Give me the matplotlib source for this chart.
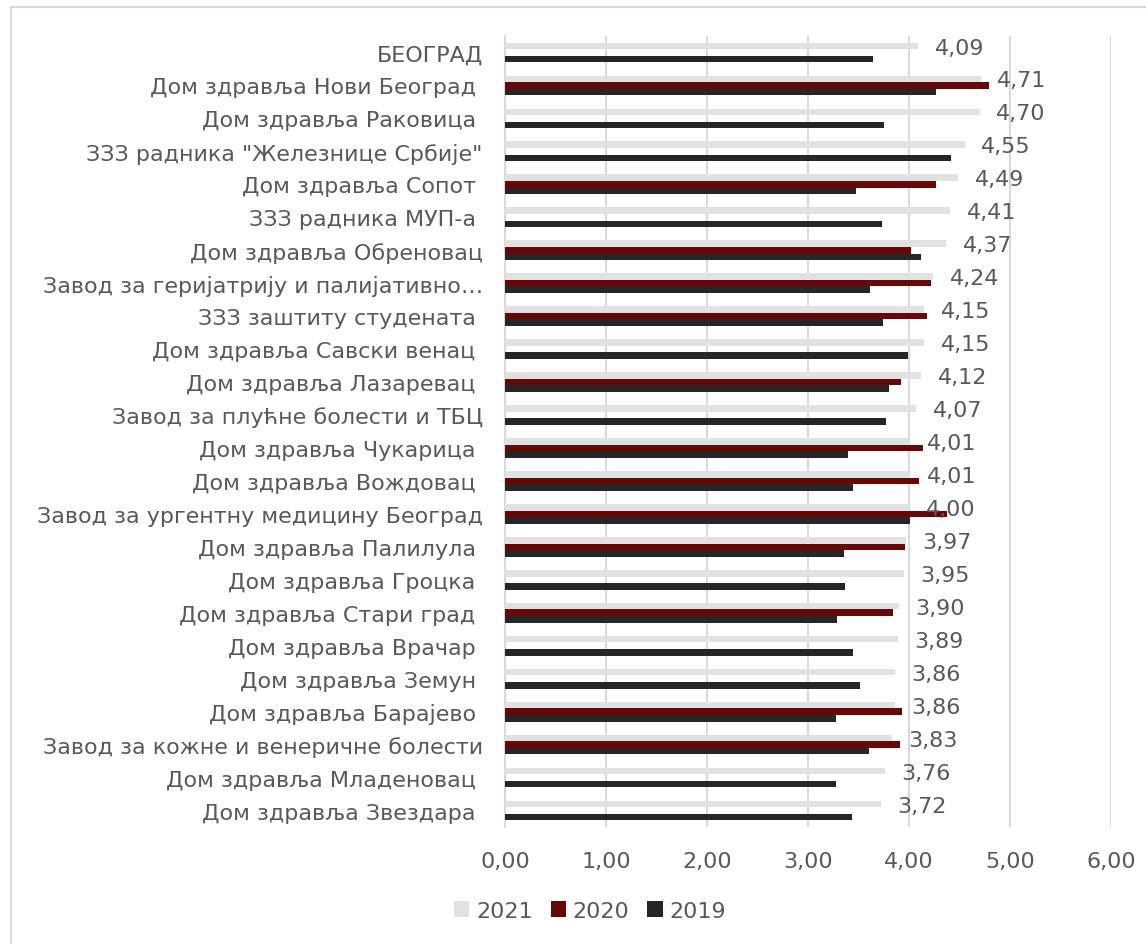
import matplotlib
matplotlib.use("Agg")
import matplotlib.pyplot as plt
from matplotlib.patches import Rectangle, Patch
import numpy as np

plt.rcParams['font.family'] = ['DejaVu Sans']

categories = [
    "БЕОГРАД",
    "Дом здравља Нови Београд ",
    "Дом здравља Раковица ",
    'ЗЗЗ радника "Железнице Србије"',
    "Дом здравља Сопот ",
    "ЗЗЗ радника МУП-а ",
    "Дом здравља Обреновац",
    "Завод за геријатрију и палијативно…",
    "ЗЗЗ заштиту студената ",
    "Дом здравља Савски венац ",
    "Дом здравља Лазаревац ",
    "Завод за плућне болести и ТБЦ",
    "Дом здравља Чукарица ",
    "Дом здравља Вождовац ",
    "Завод за ургентну медицину Београд",
    "Дом здравља Палилула ",
    "Дом здравља Гроцка ",
    "Дом здравља Стари град ",
    "Дом здравља Врачар ",
    "Дом здравља Земун ",
    "Дом здравља Барајево ",
    "Завод за кожне и венеричне болести",
    "Дом здравља Младеновац ",
    "Дом здравља Звездара ",
]

nan = np.nan
values_2021 = [4.09, 4.71, 4.70, 4.55, 4.49, 4.41, 4.37, 4.24, 4.15, 4.15, 4.12, 4.07,
               4.01, 4.01, 4.00, 3.97, 3.95, 3.90, 3.89, 3.86, 3.86, 3.83, 3.76, 3.72]
values_2020 = [nan, 4.79, nan, nan, 4.27, nan, 4.02, 4.22, 4.18, nan, 3.92, nan,
               4.14, 4.10, 4.38, 3.96, nan, 3.84, nan, nan, 3.93, 3.91, nan, nan]
values_2019 = [3.64, 4.27, 3.75, 4.42, 3.48, 3.73, 4.12, 3.61, 3.74, 3.99, 3.80, 3.77,
               3.40, 3.45, 4.01, 3.36, 3.37, 3.29, 3.45, 3.51, 3.28, 3.60, 3.28, 3.44]

series_names = ["2021", "2020", "2019"]
x_ticks = [0, 1, 2, 3, 4, 5, 6]

c2021 = "#E1E1E1"
c2020 = "#660808"
c2019 = "#262626"
text_color = "#595959"
grid_color = "#D9D9D9"

W, H = 1146, 945
fig = plt.figure(figsize=(W / 100, H / 100), dpi=100)
fig.patch.set_facecolor("white")

# outer chart frame (partially off-canvas)
fig.patches.append(Rectangle((11 / W, -0.1), 1.2, 1 - 8 / H + 0.1,
                             transform=fig.transFigure, fill=False,
                             edgecolor=grid_color, linewidth=1.5))

ax = fig.add_axes([505 / W, 1 - 828 / H, (1111 - 505) / W, (828 - 37) / H])

y = np.arange(len(categories))
h = 0.2
ax.barh(y - h, values_2021, height=h, color=c2021, label=series_names[0], zorder=3)
ax.barh(y, values_2020, height=h, color=c2020, label=series_names[1], zorder=3)
ax.barh(y + h, values_2019, height=h, color=c2019, label=series_names[2], zorder=3)

for yi, v in zip(y, values_2021):
    ax.annotate(f"{v:.2f}".replace(".", ","), xy=(v, yi - h + 0.05),
                xytext=(12, 0), textcoords="offset points",
                ha="left", va="center", fontsize=16, color=text_color, zorder=5)

ax.set_xlim(0, 6)
ax.set_ylim(len(categories) - 0.5, -0.5)
ax.set_xticks(x_ticks)
ax.set_xticklabels([f"{t:.2f}".replace(".", ",") for t in x_ticks])
ax.set_yticks(y)
ax.set_yticklabels(categories)

ax.tick_params(axis="y", length=0, pad=16, labelsize=16, labelcolor=text_color)
ax.tick_params(axis="x", length=0, pad=17, labelsize=16, labelcolor=text_color)

ax.grid(axis="x", color=grid_color, linewidth=1.5, zorder=0)
ax.set_axisbelow(True)
for s in ["top", "right", "bottom"]:
    ax.spines[s].set_visible(False)
ax.spines["left"].set_color(grid_color)
ax.spines["left"].set_linewidth(1.5)

handles = [Patch(facecolor=c2021), Patch(facecolor=c2020), Patch(facecolor=c2019)]
leg = fig.legend(handles, series_names, loc="center", bbox_to_anchor=(590 / W, 1 - 912 / H),
                 ncol=3, frameon=False, fontsize=16, handlelength=0.7, handleheight=0.7,
                 handletextpad=0.3, columnspacing=0.8, labelcolor=text_color)

fig.savefig("out.png", dpi=100, facecolor="white")
